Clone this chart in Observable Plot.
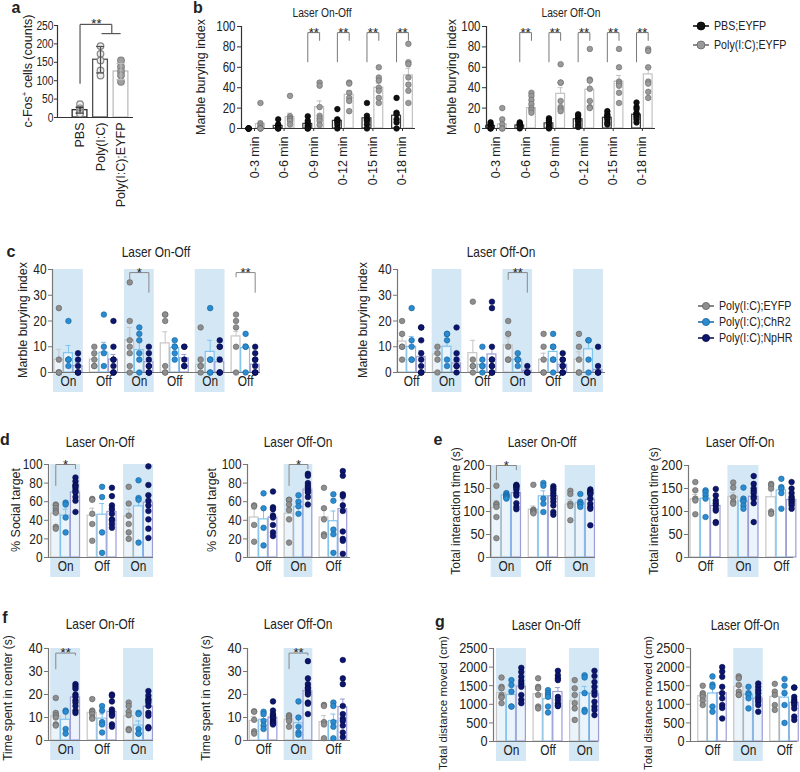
<!DOCTYPE html>
<html><head><meta charset="utf-8">
<script src="https://cdn.jsdelivr.net/npm/d3@7"></script>
<script src="https://cdn.jsdelivr.net/npm/@observablehq/plot@0.6"></script>
<style>
body{margin:0;background:#fff;}
#fig{position:relative;width:800px;height:772px;overflow:hidden;font-family:"Liberation Sans",Arial,Helvetica,sans-serif;color:#222;background:#fff;}
.abs{position:absolute;white-space:nowrap;line-height:1;}
.letter{font-weight:bold;font-size:16px;transform:translate(-50%,-50%);}
.title{transform:translate(-50%,-50%) scaleX(0.82);}
.ylab{transform:translate(-50%,-50%) rotate(-90deg);}
.leg{display:flex;align-items:center;}
.leg span{display:inline-block;transform:scaleX(0.82);transform-origin:0 50%;}
</style></head><body><div id="fig"></div>
<script>
// ---------------- DATA ----------------
// Panel a
const aCategories = ["PBS", "Poly(I:C)", "Poly(I:C);EYFP"];
const aMeans = [20, 157, 125];
const aErr = [8, 36, 22];
const aPoints = [[36, 25, 20, 15, 10], [194, 173, 155, 128, 114], [155, 138, 126, 115, 97]];

// Panel b
const bTimes = ["0-3 min", "0-6 min", "0-9 min", "0-12 min", "0-15 min", "0-18 min"];
const bSeries = ["PBS;EYFP", "Poly(I:C);EYFP"];
const bL_mean = [[0, 4.5], [2.5, 11], [4.5, 21], [7.5, 33], [10, 40], [12.5, 52]];
const bL_sem = [[0, 3], [1.3, 4], [1.6, 6], [2.6, 4], [3.5, 4.5], [4, 7]];
const bL_pts = [
  [[0, 0, 0, 0, 0, 0], [25, 5, 3, 1, 0, 0, 0]],
  [[9, 4, 3, 1, 0, 0], [32, 12, 10, 9, 7.5, 4]],
  [[12, 7.5, 5, 3, 2, 0, 0], [45, 42, 21, 12.5, 10, 7.5, 3.5]],
  [[19, 9, 7.5, 6, 3.5, 0], [45, 44, 35, 30, 27, 17]],
  [[25, 12.5, 9, 7.5, 4, 0], [60, 50, 47, 40, 37, 30, 25]],
  [[30, 15.5, 14, 9, 6, 0], [83, 65, 63, 50, 43, 37, 25]]
];
const bL_sig = [{g: 2, label: "**"}, {g: 3, label: "**"}, {g: 4, label: "**"}, {g: 5, label: "**"}];
const bR_mean = [[2.5, 4], [3, 20], [5, 34], [9, 38], [10.5, 46], [13.5, 53]];
const bR_sem = [[1, 3.5], [1, 3], [1.5, 6], [1.7, 7], [1.7, 6], [2, 7]];
const bR_pts = [
  [[6, 4, 3, 1.5, 0, 0], [20, 9, 4, 0, 0]],
  [[6, 5, 4, 3, 2, 0], [35, 32, 28, 24, 20, 18, 15.5]],
  [[10, 8, 6, 4, 1.5, 0], [63, 45, 45, 27, 21, 19, 17]],
  [[14, 12.5, 10, 8, 7, 4, 1.5], [78, 48, 47, 39, 27, 21, 20]],
  [[17, 14, 12.5, 11, 9, 6, 4], [78, 60, 46, 44, 42, 35, 25]],
  [[25.5, 21, 19, 15, 14, 12.5, 11, 9, 6], [78, 76, 60, 46, 44, 36, 30]]
];
const bR_sig = [{g: 1, label: "**"}, {g: 2, label: "**"}, {g: 3, label: "**"}, {g: 4, label: "**"}, {g: 5, label: "**"}];

// Panels c-g: three groups
const optoSeries = ["Poly(I:C);EYFP", "Poly(I:C);ChR2", "Poly(I:C);NpHR"];
const statesOnOff6 = ["On", "Off", "On", "Off", "On", "Off"];
const statesOffOn6 = ["Off", "On", "Off", "On", "Off", "On"];
const statesOnOff3 = ["On", "Off", "On"];
const statesOffOn3 = ["Off", "On", "Off"];

const cL_mean = [[5, 7.5, 2.5], [5, 7.7, 5], [12.5, 8.7, 4], [11.3, 9.5, 5.5], [3, 8, 4], [14, 9.5, 3]];
const cL_sem = [[4, 3, 1.2], [1.5, 4, 2], [5, 3.8, 1.5], [4.5, 1.5, 1.5], [3, 4.5, 2], [2, 1.5, 1.2]];
const cL_pts = [
  [[25, 5, 0, 0, 0], [20, 5, 5, 5, 2.5], [7.5, 5, 2.5, 0, 0, 0]],
  [[10, 7.5, 5, 2.5, 2.5], [22.5, 10, 7.5, 2.5], [20, 10, 5, 5, 2.5, 0, 0, 0]],
  [[35, 20, 12.5, 10, 7.5, 2.5, 0], [17.5, 15, 12.5, 7.5, 5, 0], [10, 7.5, 5, 2.5, 2.5, 0, 0, 0]],
  [[22.5, 22.5, 20, 2.5, 0, 0], [12.5, 10, 10, 7.5, 5], [10, 10, 5, 2.5, 2.5]],
  [[17.5, 5, 2.5, 2.5, 0], [25, 5, 5, 0, 0], [12.5, 10, 10, 5, 0, 0, 0]],
  [[22.5, 20, 17.5, 10, 0], [15, 10, 10, 0], [10, 7.5, 5, 5, 2.5, 0, 0, 0]]
];
const cL_sig = [{g: 2, label: "*", top: 38.8, l: 36, r: 31}, {g: 5, label: "**", top: 38.8, l: 37, r: 31}];

const cR_mean = [[12, 10, 6], [7, 10, 3.5], [7.5, 3, 7], [10.5, 5, 0.6], [5, 8, 3], [5, 9, 1]];
const cR_sem = [[2.5, 4, 2.5], [2.3, 4, 2.5], [5, 1.5, 3], [3, 1, 0.6], [2.5, 2.7, 1], [3, 3.5, 1.5]];
const cR_pts = [
  [[20, 15, 10, 10, 5], [25, 12.5, 10, 5, 5], [17.5, 17.5, 12.5, 7.5, 5, 2.5, 0, 0, 0]],
  [[10, 7.5, 5, 0], [15, 15, 12.5, 5, 2.5], [17.5, 7.5, 5, 2.5, 2.5, 0]],
  [[27.5, 5, 2.5, 2.5, 0], [10, 5, 2.5, 2.5, 0], [27.5, 25, 10, 5, 5, 2.5, 2.5, 0, 0, 0]],
  [[20, 15, 10, 5, 5], [7.5, 5, 5, 5, 2.5], [2.5, 0, 0, 0]],
  [[15, 10, 5, 0, 0], [15, 10, 10, 5, 5, 0], [7.5, 5, 5, 2.5, 2.5, 0, 0, 0]],
  [[15, 10, 5, 0, 0], [12.5, 12.5, 5, 0], [10, 2.5, 0, 0, 0]]
];
const cR_sig = [{g: 3, label: "**", top: 38.8, l: 36, r: 31}];

const dL_mean = [[47, 45, 70], [45, 46, 49], [44, 55, 59]];
const dL_sem = [[4, 7, 4], [8, 12, 5], [8, 9, 7.5]];
const dL_pts = [
  [[57, 56, 53, 50, 48, 33, 31], [59, 57, 43, 27], [86, 82, 78, 77, 75, 72, 70, 65, 61, 49]],
  [[63, 62, 47, 36, 18], [76, 65, 27, 5], [75, 66, 56, 52, 47, 41, 40, 36, 32]],
  [[76, 58, 45, 36, 27, 20], [83, 64, 62, 16], [98, 78, 67, 61, 56, 50, 41, 31, 21]]
];
const dL_sig = [{g: 0, label: "*", top: 100, l: 77, r: 95}];
const dR_mean = [[43, 41, 43], [47, 54, 73], [43, 39, 52]];
const dR_sem = [[9, 12, 5], [7, 4, 4], [9, 11, 10]];
const dR_pts = [
  [[56, 55, 35, 17], [69, 53, 32, 13], [71, 54, 52, 45, 43, 35, 27, 23]],
  [[62, 62, 57, 51, 41, 16], [67, 60, 55, 47], [90, 88, 80, 77, 75, 72, 70, 65, 57]],
  [[75, 53, 41, 25, 23], [68, 61, 30, 25, 5], [93, 88, 68, 66, 56, 50, 28, 20, 18, 4]]
];
const dR_sig = [{g: 1, label: "*", top: 100, l: 77, r: 95}];

const eL_mean = [[108, 135, 140], [104, 133, 133], [115, 118, 125]];
const eL_sem = [[16, 2, 6], [8, 12, 7], [11, 5, 8]];
const eL_pts = [
  [[156, 117, 115, 110, 88, 42], [140, 137, 135, 133, 132, 130, 128], [158, 156, 155, 152, 148, 140, 135, 118, 110, 105]],
  [[158, 104, 102, 100, 98, 96], [162, 156, 128, 117, 99], [155, 150, 146, 140, 135, 128, 121, 113, 99, 93]],
  [[145, 138, 117, 112, 81], [138, 121, 117, 115, 110], [148, 145, 142, 140, 138, 128, 117, 110, 106, 70]]
];
const eL_sig = [{g: 0, label: "*", top: 200, l: 168, r: 190}];
const eR_mean = [[126, 128, 112], [132, 122, 132], [131, 146, 125]];
const eR_sem = [[11, 10, 8], [9, 6, 10], [14, 10, 6]];
const eR_pts = [
  [[164, 146, 128, 124, 94], [146, 142, 135, 128, 88], [149, 135, 124, 118, 113, 106, 102, 77, 75]],
  [[163, 152, 131, 121, 117], [152, 128, 124, 121, 113, 106], [177, 160, 150, 145, 140, 132, 128, 118, 77]],
  [[160, 157, 150, 100, 95], [171, 153, 150, 140, 106], [164, 150, 140, 132, 128, 124, 121, 117, 113, 106]]
];

const fL_mean = [[10.5, 9, 18.7], [12, 9.5, 12.5], [10.5, 6.5, 14.7]];
const fL_sem = [[2, 3, 1.3], [1.3, 2, 1.6], [2, 2, 2]];
const fL_pts = [
  [[18.5, 12, 11, 10, 7, 6.5], [13, 12.5, 5, 3], [24.5, 23.5, 22.5, 20, 19, 17.5, 16.5, 15, 13, 12]],
  [[18, 13, 12.5, 11.5, 10, 9.5], [15, 13, 8, 7, 3.5], [20, 19.5, 17, 13.5, 12.5, 11.5, 10.8, 7, 6]],
  [[16.5, 15, 12.5, 11, 5, 4.5], [12, 11.5, 5, 3, 3], [21.5, 19.5, 18, 17.5, 16.5, 15, 12, 10.8, 5.8, 5.3]]
];
const fL_sig = [{g: 0, label: "**", top: 38, l: 31, r: 37}];
const fR_mean = [[8.5, 9, 10], [9, 7.5, 21.5], [8, 8.5, 14.5]];
const fR_sem = [[2, 1.5, 1], [1, 3, 2], [2.8, 3, 3.5]];
const fR_pts = [
  [[12.7, 12.5, 9, 4, 3], [12.5, 11.5, 8.5, 6.5, 5], [17, 13, 11.5, 11, 10, 9.5, 8.5, 8, 7.5, 7]],
  [[11, 10.5, 9.5, 8.5, 6], [17, 10, 6, 3.5, 2.5], [34.5, 27, 24.5, 23, 22.5, 21, 20, 16.5, 16, 11.5]],
  [[15.5, 15, 8, 7, 1], [16.5, 15, 8, 6, 1], [35, 27, 24.5, 15, 11.5, 9.5, 8.5, 6.5, 3.5, 1.5]]
];
const fR_sig = [{g: 1, label: "**", top: 38, l: 31, r: 37}];

const gL_mean = [[1300, 1250, 1480], [1270, 1140, 1330], [1080, 1300, 1280]];
const gL_sem = [[90, 140, 110], [130, 90, 120], [150, 180, 120]];
const gL_pts = [
  [[1720, 1470, 1430, 1250, 1200, 1180, 1030], [1650, 1520, 1340, 940, 940], [1980, 1870, 1740, 1630, 1550, 1470, 1250, 1120, 1030]],
  [[1700, 1470, 1430, 1250, 940, 890], [1380, 1300, 1250, 1200, 940, 780], [1900, 1780, 1700, 1650, 1200, 1120, 1030, 980, 950]],
  [[1650, 1430, 1250, 1030, 890, 580], [1780, 1720, 1300, 850, 800], [1900, 1760, 1600, 1470, 1340, 1250, 1070, 940, 850, 710]]
];
const gR_mean = [[1220, 1290, 1300], [1470, 1260, 1150], [1200, 1180, 1040]];
const gR_sem = [[70, 180, 150], [90, 90, 80], [120, 200, 90]];
const gR_pts = [
  [[1500, 1300, 1260, 1200, 1100, 980], [1750, 1530, 1470, 940, 800], [2000, 1880, 1740, 1470, 1300, 1160, 980, 900, 620]],
  [[1750, 1700, 1520, 1340, 1260, 1250], [1470, 1300, 1250, 1160, 890], [1560, 1470, 1380, 1300, 1200, 1120, 1070, 980, 800]],
  [[1550, 1340, 1250, 980, 850], [1680, 1500, 1300, 980, 500], [1450, 1450, 1200, 1120, 1070, 1030, 980, 890, 670, 580]]
];

// ---------------- STYLE / LAYOUT ----------------
const FONT = '"Liberation Sans", Arial, Helvetica, sans-serif';
const SX = 0.82;   // horizontal text in the reference is condensed
const SHADE = "#d4e7f5";
const OPTO = [
  {bar: "#c6c6c6", dot: "#8e8e8e", ds: "#606060"},
  {bar: "#80c4ee", dot: "#2a8bd0", ds: "#17639b"},
  {bar: "#9d9dd8", dot: "#0c1670", ds: "#050a40"}
];
const BCOL = [
  {bar: "#3a3a3a", dot: "#111111", ds: "#000000"},
  {bar: "#c2c2c2", dot: "#9a9a9a", ds: "#666666"}
];
const fig = document.getElementById("fig");

function addDiv(cls, html, x, y, extra) {
  const d = document.createElement("div");
  d.className = "abs " + cls;
  d.style.left = x + "px";
  d.style.top = y + "px";
  if (extra) Object.assign(d.style, extra);
  d.innerHTML = html;
  fig.appendChild(d);
  return d;
}

function jitter(vals, kx, ky, r, maxPx) {
  const order = vals.map((v, i) => [v, i]).sort((a, b) => b[0] - a[0]);
  const step = r * 1.75;
  const cands = [0, -1, 1, -2, 2, -3, 3].map(k => k * step).filter(c => Math.abs(c) <= maxPx + 0.01);
  const placed = [];
  const out = new Array(vals.length).fill(0);
  for (const [v, i] of order) {
    const yp = v * ky;
    let best = null, bestHits = Infinity;
    for (const c of cands) {
      const hits = placed.filter(p => Math.abs(p.x - c) < step * 0.9 && Math.abs(p.y - yp) < r * 1.7).length;
      if (hits < bestHits) { bestHits = hits; best = c; }
      if (hits === 0) break;
    }
    placed.push({x: best, y: yp});
    out[i] = best / kx;
  }
  return out;
}

// condense horizontal tick labels
function condense(svg, selector) {
  svg.querySelectorAll(selector).forEach(g => {
    g.querySelectorAll("text").forEach(t => {
      const tr = t.getAttribute("transform");
      if (tr) t.setAttribute("transform", tr + ` scale(${SX},1)`);
      else {
        const x = +(t.getAttribute("x") || 0);
        t.setAttribute("x", x / SX);
        t.setAttribute("transform", `scale(${SX},1)`);
      }
    });
  });
}

function place(svg, x, y) {
  svg.style.position = "absolute";
  svg.style.left = x + "px";
  svg.style.top = y + "px";
  fig.appendChild(svg);
}
const intFmt = d => String(d);

function makePanel(c) {
  const ml = 50, mr = 10, mt = 30, mb = c.mb;
  const W = c.right - c.left + ml + mr;
  const H = c.bottom - c.top + mt + mb;
  const kx = (c.right - c.left) / (c.xdom[1] - c.xdom[0]);
  const ky = (c.bottom - c.top) / c.ymax;
  const G = c.labels.length, S = c.series.length;
  const marks = [];
  if (c.states) {
    const on = d3.range(G).filter(g => c.states[g] === "On");
    marks.push(Plot.rect(on, {x1: g => g - c.sh, x2: g => g + c.sh, y1: -c.ext / ky, y2: c.ymax, fill: SHADE}));
  }
  const cap = 2.5 / kx;
  for (let s = 0; s < S; s++) {
    const col = c.series[s];
    const bars = d3.range(G).map(g => ({x: g + c.offsets[s], m: c.means[g][s], e: c.sems[g][s]}));
    marks.push(Plot.rect(bars, {x1: d => d.x - c.bw / 2, x2: d => d.x + c.bw / 2, y1: 0, y2: "m",
      fill: "white", fillOpacity: c.barFill, stroke: col.bar, strokeWidth: 1.2}));
    const eb = bars.filter(d => d.e > 0);
    marks.push(Plot.ruleX(eb, {x: "x", y1: "m", y2: d => d.m + d.e, stroke: col.bar, strokeWidth: 1}));
    marks.push(Plot.ruleY(eb, {y: d => d.m + d.e, x1: d => d.x - cap, x2: d => d.x + cap, stroke: col.bar, strokeWidth: 1}));
  }
  marks.push(Plot.ruleY([0], {x1: c.xdom[0], x2: c.xdom[1], stroke: c.axis, strokeWidth: 1.2}));
  marks.push(Plot.ruleX([c.xdom[0]], {y1: 0, y2: c.ymax, stroke: c.axis, strokeWidth: 1.2}));
  for (let s = 0; s < S; s++) {
    const col = c.series[s];
    const dots = [];
    for (let g = 0; g < G; g++) {
      const vals = c.pts[g][s];
      const off = jitter(vals, kx, ky, c.r, c.maxPx);
      vals.forEach((v, i) => dots.push({x: g + c.offsets[s] + off[i], y: v}));
    }
    marks.push(Plot.dot(dots, {x: "x", y: "y", r: c.r, fill: col.dot, stroke: col.ds, strokeWidth: 0.6}));
  }
  const segs = [], stars = [];
  for (const sg of c.sig) {
    const t = sg.top ?? c.sigY.top, l = sg.l ?? c.sigY.l, r = sg.r ?? c.sigY.r;
    const x1 = sg.g + c.offsets[0], x2 = sg.g + c.offsets[S - 1];
    segs.push({x1, y1: l, x2: x1, y2: t}, {x1, y1: t, x2, y2: t}, {x1: x2, y1: t, x2, y2: r});
    stars.push({x: (x1 + x2) / 2, y: t, t: sg.label});
  }
  marks.push(Plot.link(segs, {x1: "x1", y1: "y1", x2: "x2", y2: "y2", stroke: c.sigColor, strokeWidth: 1}));
  marks.push(Plot.text(stars, {x: "x", y: "y", text: "t", dy: 4, lineAnchor: "bottom", fontSize: 13, fill: "#222"}));
  marks.push(Plot.axisY({ticks: c.yticks, tickFormat: intFmt, tickSize: 4, tickPadding: 2, fontSize: c.tickFont,
    stroke: c.axis, label: null}));
  marks.push(Plot.axisX({ticks: d3.range(G), tickFormat: i => c.labels[i], tickSize: c.xTickSize, tickPadding: c.xPad,
    tickRotate: c.xRotate || 0, fontSize: c.xFont, stroke: c.axis, label: null}));
  const svg = Plot.plot({
    width: W, height: H, marginLeft: ml, marginRight: mr, marginTop: mt, marginBottom: mb,
    x: {domain: c.xdom}, y: {domain: [0, c.ymax]},
    style: {background: "transparent", overflow: "visible", fontFamily: FONT, color: "#222"},
    marks
  });
  condense(svg, c.xRotate ? 'g[aria-label="y-axis tick label"]' : 'g[aria-label="y-axis tick label"], g[aria-label="x-axis tick label"]');
  place(svg, c.left - ml, c.top - mt);
}

// ---------------- PANEL A ----------------
(function () {
  const left = 57, right = 133, top = 25, bottom = 117, xdom = [-1.10, 2.61], ymax = 250;
  const ml = 40, mr = 10, mt = 30, mb = 100;
  const W = right - left + ml + mr, H = bottom - top + mt + mb;
  const kx = (right - left) / (xdom[1] - xdom[0]), ky = (bottom - top) / ymax;
  const barCol = ["#2a2a2a", "#505050", "#bdbdbd"];
  const dotFill = ["#ececec", "#ececec", "#a0a0a0"];
  const bars = aMeans.map((m, g) => ({x: g, m, e: aErr[g], c: barCol[g]}));
  const dots = [];
  aPoints.forEach((vals, g) => {
    const off = jitter(vals, kx, ky, 3, 5);
    vals.forEach((v, i) => dots.push({x: g + off[i], y: v, f: dotFill[g]}));
  });
  const cap = 4 / kx, bw = 0.36;
  const marks = [];
  bars.forEach(b => {
    marks.push(Plot.rect([b], {x1: d => d.x - bw, x2: d => d.x + bw, y1: 0, y2: "m", fill: "white", stroke: b.c, strokeWidth: 1.3}));
  });
  marks.push(Plot.dot(dots, {x: "x", y: "y", r: 3.3, fill: d => d.f, stroke: "#858585", strokeWidth: 1.2}));
  bars.forEach(b => {
    marks.push(Plot.ruleX([b], {x: "x", y1: d => d.m - d.e, y2: d => d.m + d.e, stroke: b.c, strokeWidth: 1.2}));
    marks.push(Plot.ruleY([b.m - b.e, b.m + b.e], {y: d => d, x1: b.x - cap, x2: b.x + cap, stroke: b.c, strokeWidth: 1.2}));
  });
  marks.push(Plot.ruleY([0], {x1: xdom[0], x2: xdom[1], stroke: "#333", strokeWidth: 1.2}));
  marks.push(Plot.ruleX([xdom[0]], {y1: 0, y2: ymax, stroke: "#333", strokeWidth: 1.2}));
  const segs = [
    {x1: 0, y1: 92, x2: 0, y2: 253}, {x1: 0, y1: 253, x2: 1.55, y2: 253},
    {x1: 1.55, y1: 253, x2: 1.55, y2: 228}, {x1: 1.05, y1: 228, x2: 1.98, y2: 228}
  ];
  marks.push(Plot.link(segs, {x1: "x1", y1: "y1", x2: "x2", y2: "y2", stroke: "#555", strokeWidth: 1.2}));
  marks.push(Plot.text([{x: 0.8, y: 253, t: "**"}], {x: "x", y: "y", text: "t", dy: 4, lineAnchor: "bottom", fontSize: 13}));
  marks.push(Plot.axisY({ticks: [0, 50, 100, 150, 200, 250], tickFormat: intFmt, tickSize: 3, tickPadding: 1,
    fontSize: 12.5, stroke: "#333", label: null}));
  marks.push(Plot.axisX({ticks: [0, 1, 2], tickFormat: i => aCategories[i], tickSize: 0, tickPadding: 5, tickRotate: -90,
    fontSize: 12.5, label: null}));
  const svg = Plot.plot({
    width: W, height: H, marginLeft: ml, marginRight: mr, marginTop: mt, marginBottom: mb,
    x: {domain: xdom}, y: {domain: [0, ymax]},
    style: {background: "transparent", overflow: "visible", fontFamily: FONT, color: "#222"},
    marks
  });
  condense(svg, 'g[aria-label="y-axis tick label"]');
  place(svg, left - ml, top - mt);
})();

// ---------------- PANEL B ----------------
const bCommon = {top: 26, bottom: 128, ymax: 100, yticks: [0, 20, 40, 60, 80, 100], labels: bTimes, states: null,
  series: BCOL, offsets: [-0.2, 0.2], bw: 0.3, r: 2.8, maxPx: 4, sigY: {top: 94, l: 65, r: 86}, tickFont: 14,
  xFont: 12.5, xRotate: -90, xTickSize: 3, xPad: 5, mb: 70, axis: "#333", sigColor: "#777", barFill: 1};
makePanel({...bCommon, left: 241, right: 415, xdom: [-0.44, 5.44], means: bL_mean, sems: bL_sem, pts: bL_pts, sig: bL_sig});
makePanel({...bCommon, left: 486, right: 655, xdom: [-0.34, 5.45], means: bR_mean, sems: bR_sem, pts: bR_pts, sig: bR_sig});

// ---------------- PANELS C-G ----------------
const optoCommon = {series: OPTO, offsets: [-0.27, 0, 0.27], bw: 0.25, sh: 0.41, ext: 20, r: 2.8, maxPx: 4.5,
  tickFont: 14.5, xFont: 14.5, xTickSize: 0, xPad: 3, mb: 30, axis: "#777", sigColor: "#888", barFill: 0.55};
const cCommon = {...optoCommon, top: 269, bottom: 372, ymax: 40, yticks: [0, 10, 20, 30, 40], sh: 0.42};
makePanel({...cCommon, left: 52, right: 260, xdom: [-0.45, 5.42], labels: statesOnOff6, states: statesOnOff6,
  means: cL_mean, sems: cL_sem, pts: cL_pts, sig: cL_sig});
makePanel({...cCommon, left: 397, right: 605, xdom: [-0.40, 5.48], labels: statesOffOn6, states: statesOffOn6,
  means: cR_mean, sems: cR_sem, pts: cR_pts, sig: cR_sig});

const dCommon = {...optoCommon, top: 464, bottom: 557, ymax: 100, yticks: [0, 20, 40, 60, 80, 100]};
makePanel({...dCommon, left: 48, right: 153, xdom: [-0.47, 2.41], labels: statesOnOff3, states: statesOnOff3,
  means: dL_mean, sems: dL_sem, pts: dL_pts, sig: dL_sig});
makePanel({...dCommon, left: 247, right: 350, xdom: [-0.46, 2.49], labels: statesOffOn3, states: statesOffOn3,
  means: dR_mean, sems: dR_sem, pts: dR_pts, sig: dR_sig});

const eCommon = {...optoCommon, top: 465, bottom: 557, ymax: 200, yticks: [0, 50, 100, 150, 200], tickFont: 15.5};
makePanel({...eCommon, left: 490, right: 595, xdom: [-0.43, 2.41], labels: statesOnOff3, states: statesOnOff3,
  means: eL_mean, sems: eL_sem, pts: eL_pts, sig: eL_sig});
makePanel({...eCommon, left: 688, right: 793, xdom: [-0.45, 2.32], labels: statesOffOn3, states: statesOffOn3,
  means: eR_mean, sems: eR_sem, pts: eR_pts, sig: []});

const fCommon = {...optoCommon, top: 648, bottom: 740, ymax: 40, yticks: [0, 10, 20, 30, 40], tickFont: 15.5};
makePanel({...fCommon, left: 48, right: 153, xdom: [-0.47, 2.41], labels: statesOnOff3, states: statesOnOff3,
  means: fL_mean, sems: fL_sem, pts: fL_pts, sig: fL_sig});
makePanel({...fCommon, left: 247, right: 350, xdom: [-0.46, 2.49], labels: statesOffOn3, states: statesOffOn3,
  means: fR_mean, sems: fR_sem, pts: fR_pts, sig: fR_sig});

const gCommon = {...optoCommon, top: 648, bottom: 741, ymax: 2500, yticks: [0, 500, 1000, 1500, 2000, 2500], tickFont: 15.5};
makePanel({...gCommon, left: 493, right: 598, xdom: [-0.49, 2.38], labels: statesOnOff3, states: statesOnOff3,
  means: gL_mean, sems: gL_sem, pts: gL_pts, sig: []});
makePanel({...gCommon, left: 690, right: 797, xdom: [-0.61, 2.36], labels: statesOffOn3, states: statesOffOn3,
  means: gR_mean, sems: gR_sem, pts: gR_pts, sig: []});

// ---------------- TEXT OVERLAYS ----------------
[["a", 16, 8], ["b", 198, 8], ["c", 11, 252], ["d", 5, 440], ["e", 438, 440], ["f", 5, 618], ["g", 440, 622]]
  .forEach(([t, x, y]) => addDiv("letter", t, x, y));
addDiv("title", "Laser On-Off", 322, 13, {fontSize: "12.5px"});
addDiv("title", "Laser Off-On", 571, 13, {fontSize: "12.5px"});
[[156, 252, "Laser On-Off"], [501, 252, "Laser Off-On"], [100, 442, "Laser On-Off"], [298, 442, "Laser Off-On"],
 [542, 442, "Laser On-Off"], [740, 442, "Laser Off-On"], [100, 624, "Laser On-Off"], [298, 624, "Laser Off-On"],
 [546, 625, "Laser On-Off"], [745, 625, "Laser Off-On"]]
  .forEach(([x, y, t]) => addDiv("title", t, x, y, {fontSize: "14.5px"}));
addDiv("ylab", "c-Fos<sup style='font-size:8px'>+</sup> cells (counts)", 28, 71, {fontSize: "12.5px"});
[[201, 77, "Marble burying index", 12.5], [452, 77, "Marble burying index", 12.5],
 [23, 320, "Marble burying index", 12.5], [363, 320, "Marble burying index", 12.5],
 [16, 510, "% Social target", 12.5], [212, 510, "% Social target", 12.5],
 [456, 511, "Total interaction time (s)", 12], [654, 511, "Total interaction time (s)", 12],
 [8, 698, "Time spent in center (s)", 12], [206, 698, "Time spent in center (s)", 12],
 [444, 703, "Total distance moved (cm)", 11.5], [649, 703, "Total distance moved (cm)", 11.5]]
  .forEach(([x, y, t, fs]) => addDiv("ylab", t, x, y, {fontSize: fs + "px"}));

// ---------------- LEGENDS ----------------
function legendRow(x, y, col, text, r, fs) {
  const html = `<svg width="18" height="12" style="margin-right:4px"><line x1="1" y1="6" x2="17" y2="6" stroke="${col.ds}" stroke-width="1.5"/>` +
    `<circle cx="9" cy="6" r="${r}" fill="${col.dot}" stroke="${col.ds}" stroke-width="0.8"/></svg><span>${text}</span>`;
  addDiv("leg", html, x, y - 6, {fontSize: fs + "px"});
}
bSeries.forEach((t, i) => legendRow(692, 25 + i * 19, BCOL[i], t, 4, 13));
optoSeries.forEach((t, i) => legendRow(697, 305 + i * 16, OPTO[i], t, 3.6, 13));
</script></body></html>
